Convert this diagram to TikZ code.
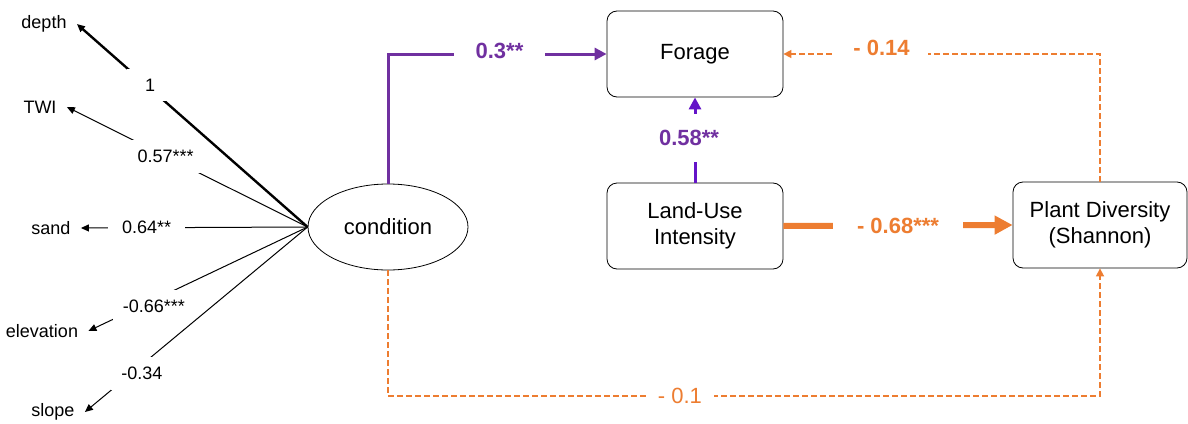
\documentclass[tikz,border=0pt]{standalone}
\usepackage{fontspec}
\setmainfont{Liberation Sans}
\usetikzlibrary{shapes.geometric,arrows.meta}
\definecolor{lila}{HTML}{7030A0}
\definecolor{violett}{HTML}{6414C8}
\definecolor{orangeline}{HTML}{ED7D31}

\begin{document}
\begin{tikzpicture}[x=0.5pt,y=-0.5pt,
        box/.style={draw, rounded corners=5pt, minimum width=88pt, minimum height=43pt, align=center, font=\fontsize{11}{13}\selectfont},
        var/.style={inner xsep=5pt, font=\fontsize{9}{10}\selectfont},
        coef/.style={fill=white, inner sep=5pt, font=\fontsize{9}{10}\selectfont},
        pcoef/.style={fill=white, inner sep=6pt, text=lila, font=\fontsize{11}{13}\selectfont\bfseries},
        ocoef/.style={fill=white, inner sep=6pt, text=orangeline, font=\fontsize{11}{13}\selectfont\bfseries},
        tip/.style={-{Triangle[length=4pt,width=3.5pt]}},
        dash line/.style={orangeline, line width=0.8pt, dash pattern=on 3pt off 1.5pt}]
    \useasboundingbox (0,0) rectangle (1188,423);

    % latent variable and indicators
    \node[draw, ellipse, minimum width=80pt, minimum height=43pt, font=\fontsize{11}{13}\selectfont] (condition) at (388,227) {condition};

    \node[var] (depth) at (44,24) {depth};
    \node[var] (twi) at (40,107) {TWI};
    \node[var] (sand) at (51,228) {sand};
    \node[var] (elevation) at (42,331) {elevation};
    \node[var] (slope) at (53,412) {slope};

    \draw[line width=1.2pt, tip] (condition.west) -- node[coef, inner xsep=9pt, pos=0.70, xshift=2pt] {1} (depth.east);
    \draw[line width=0.5pt, tip] (condition.west) -- node[coef, pos=0.59] {0.57***} (twi.east);
    \draw[line width=0.5pt, tip] (condition.west) -- node[coef, inner xsep=7pt, pos=0.71] {0.64**} (sand.east);
    \draw[line width=0.5pt, tip] (condition.west) -- node[coef, pos=0.72, xshift=2pt, yshift=-2pt] {-0.66***} (elevation.east);
    \draw[line width=0.5pt, tip] (condition.west) -- node[coef, pos=0.78, xshift=4pt, yshift=-1pt] {-0.34} (slope.east);

    % boxes
    \node[box] (forage) at (695,54) {Forage};
    \node[box] (landuse) at (695,226) {Land-Use\\Intensity};
    \node[box, minimum width=87pt] (plant) at (1100,225) {Plant Diversity\\(Shannon)};

    % paths
    \draw[lila, line width=1.5pt, -{Triangle[length=6pt,width=6pt]}] (condition.north) |- node[pcoef, inner xsep=11pt, pos=0.755, yshift=1.5pt] {0.3**} (forage.west);
    \draw[violett, line width=1.5pt, -{Triangle[length=6pt,width=6pt]}] (landuse.north) -- node[pcoef, inner ysep=8pt, xshift=-3pt, yshift=1pt] {0.58**} (forage.south);
    \draw[orangeline, line width=3pt, -{Triangle[length=9pt,width=9pt]}] (landuse.east) -- node[ocoef, inner xsep=12pt] {- 0.68***} (plant.west);
    \draw[dash line, -{Triangle[length=4pt,width=4pt]}] (plant.north) |- node[ocoef, inner xsep=9pt, pos=0.845, yshift=3pt] {- 0.14} (forage.east);

    \coordinate (lowleft) at (388,396);
    \draw[dash line, -{Triangle[length=4pt,width=4pt]}] (condition.south) -- (lowleft) -| node[fill=white, inner sep=6pt, text=orangeline, font=\fontsize{11}{13}\selectfont, pos=0.205] {- 0.1} (plant.south);

\end{tikzpicture}
\end{document}
